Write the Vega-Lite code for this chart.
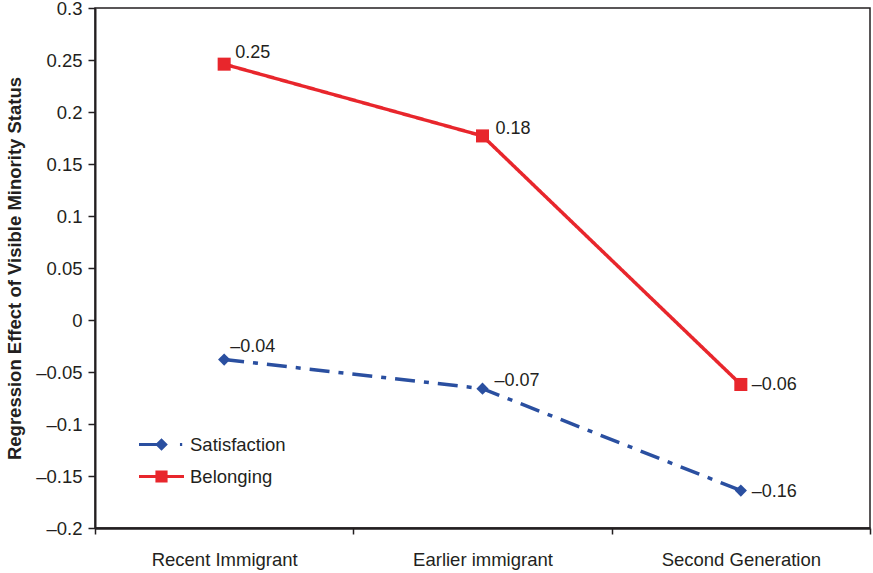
{
  "$schema": "https://vega.github.io/schema/vega-lite/v6.json",
  "width": 775,
  "height": 520,
  "autosize": "none",
  "padding": {"left": 95, "top": 8, "right": 3, "bottom": 45},
  "background": "white",
  "config": {
    "font": "Liberation Sans",
    "view": {"stroke": "#231f20", "strokeWidth": 1.5}
  },
  "data": {
    "values": [
      {"group": "Recent Immigrant", "series": "Satisfaction", "value": -0.038, "label": "–0.04"},
      {"group": "Earlier immigrant", "series": "Satisfaction", "value": -0.066, "label": "–0.07"},
      {"group": "Second Generation", "series": "Satisfaction", "value": -0.164, "label": "–0.16"},
      {"group": "Recent Immigrant", "series": "Belonging", "value": 0.246, "label": "0.25"},
      {"group": "Earlier immigrant", "series": "Belonging", "value": 0.177, "label": "0.18"},
      {"group": "Second Generation", "series": "Belonging", "value": -0.062, "label": "–0.06"}
    ]
  },
  "encoding": {
    "x": {
      "field": "group", "type": "nominal", "sort": null, "bandPosition": 0.5,
      "scale": {"type": "band", "paddingInner": 0, "paddingOuter": 0},
      "axis": {
        "title": null, "labelAngle": 0, "labelFontSize": 18.5, "labelColor": "#231f20",
        "labelPadding": 16, "tickBand": "extent", "tickSize": 6, "tickColor": "#231f20",
        "tickWidth": 1.5, "domainColor": "#231f20", "domainWidth": 2.5
      }
    },
    "y": {
      "field": "value", "type": "quantitative",
      "scale": {"domain": [-0.2, 0.3], "nice": false, "zero": false},
      "axis": {
        "title": "Regression Effect of Visible Minority Status",
        "titleFontSize": 18.5, "titleFontWeight": "bold", "titleColor": "#231f20", "titlePadding": 11,
        "values": [-0.2, -0.15, -0.1, -0.05, 0, 0.05, 0.1, 0.15, 0.2, 0.25, 0.3],
        "labelExpr": "datum.value < 0 ? '–' + format(-datum.value, '~g') : format(datum.value, '~g')",
        "labelFontSize": 18.5, "labelColor": "#231f20", "labelPadding": 6,
        "grid": false, "tickSize": 7, "tickColor": "#231f20", "tickWidth": 1.5,
        "domainColor": "#231f20", "domainWidth": 2
      }
    }
  },
  "layer": [
    {
      "mark": {"type": "line", "strokeWidth": 3.5},
      "encoding": {
        "color": {
          "field": "series", "type": "nominal",
          "scale": {"domain": ["Satisfaction", "Belonging"], "range": ["#2a4fa0", "#e8262c"]},
          "legend": {
            "title": null, "orient": "none", "legendX": 44, "legendY": 414,
            "padding": 0, "rowPadding": -1, "symbolSize": 2025, "symbolOffset": 0,
            "labelFontSize": 18.5, "labelColor": "#231f20", "labelOffset": 6,
            "encode": {
              "symbols": {
                "update": {
                  "shape": {"signal": "datum.value === 'Satisfaction' ? 'M-1,-0.07H0V0.07H-1Z M0,-0.28L0.28,0L0,0.28L-0.28,0Z M0.82,-0.07H0.92V0.07H0.82Z' : 'M-1,-0.07H1V0.07H-1Z M-0.27,-0.27H0.27V0.27H-0.27Z'"},
                  "fill": {"signal": "datum.value === 'Satisfaction' ? '#2a4fa0' : '#e8262c'"},
                  "fillOpacity": {"value": 1},
                  "strokeWidth": {"value": 0},
                  "strokeDash": {"value": []}
                }
              }
            }
          }
        },
        "strokeDash": {
          "field": "series", "type": "nominal",
          "scale": {"domain": ["Satisfaction", "Belonging"], "range": [[20, 9, 5, 9], [1, 0]]},
          "legend": null
        }
      }
    },
    {
      "transform": [{"filter": "datum.series === 'Satisfaction'"}],
      "mark": {"type": "point", "filled": true, "opacity": 1, "shape": "diamond", "size": 150, "color": "#2a4fa0"}
    },
    {
      "transform": [{"filter": "datum.series === 'Belonging'"}],
      "mark": {"type": "point", "filled": true, "opacity": 1, "shape": "square", "size": 170, "color": "#e8262c"}
    },
    {
      "transform": [{"filter": "datum.series === 'Belonging' && datum.group === 'Recent Immigrant'"}],
      "mark": {"type": "text", "align": "left", "baseline": "middle", "dx": 11, "dy": -11, "fontSize": 18, "color": "#231f20"},
      "encoding": {"text": {"field": "label"}}
    },
    {
      "transform": [{"filter": "datum.series === 'Belonging' && datum.group === 'Earlier immigrant'"}],
      "mark": {"type": "text", "align": "left", "baseline": "middle", "dx": 13, "dy": -7, "fontSize": 18, "color": "#231f20"},
      "encoding": {"text": {"field": "label"}}
    },
    {
      "transform": [{"filter": "datum.group === 'Second Generation'"}],
      "mark": {"type": "text", "align": "left", "baseline": "middle", "dx": 11, "dy": 1, "fontSize": 18, "color": "#231f20"},
      "encoding": {"text": {"field": "label"}}
    },
    {
      "transform": [{"filter": "datum.series === 'Satisfaction' && datum.group === 'Recent Immigrant'"}],
      "mark": {"type": "text", "align": "left", "baseline": "middle", "dx": 6, "dy": -13, "fontSize": 18, "color": "#231f20"},
      "encoding": {"text": {"field": "label"}}
    },
    {
      "transform": [{"filter": "datum.series === 'Satisfaction' && datum.group === 'Earlier immigrant'"}],
      "mark": {"type": "text", "align": "left", "baseline": "middle", "dx": 12, "dy": -8, "fontSize": 18, "color": "#231f20"},
      "encoding": {"text": {"field": "label"}}
    }
  ]
}
